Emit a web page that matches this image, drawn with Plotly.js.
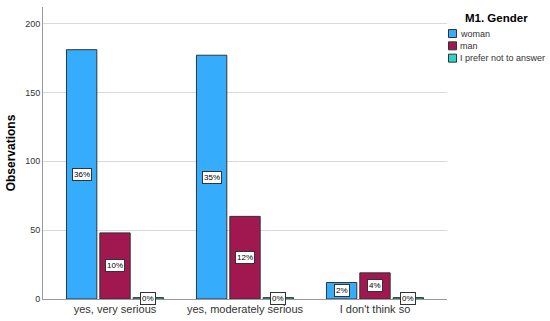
<!DOCTYPE html>
<html>
<head>
<meta charset="utf-8">
<script src="https://cdn.plot.ly/plotly-3.0.1.min.js"></script>
<style>html,body{margin:0;padding:0;background:#fff;}#chart{width:550px;height:321px;}</style>
</head>
<body>
<div id="chart"></div>
<script>
const categories = ["yes, very serious", "yes, moderately serious", "I don't think so"];
const woman = [181, 177, 12];
const man = [48, 60, 19];
const preferNot = [1, 1, 1];
const seriesNames = ["woman", "man", "I prefer not to answer"];
const seriesColors = ["#35acfc", "#a0184f", "#2fd4c8"];
const yTicks = [0, 50, 100, 150, 200];
const legendTitle = "M1. Gender";

const seriesValues = [woman, man, preferNot];
const total = seriesValues.flat().reduce((a, b) => a + b, 0);
const FONT = "Arial, 'Liberation Sans', sans-serif";

const bargap = 0.23;
const bargroupgap = 0.09;

const traces = seriesValues.map((vals, i) => ({
  type: "bar",
  name: seriesNames[i],
  x: categories,
  y: vals,
  marker: {color: seriesColors[i], line: {color: "#333333", width: 1}},
  hoverinfo: "x+y+name",
  showlegend: false
}));

// percentage boxes centred in each bar
const nS = seriesValues.length;
const groupW = 1 - bargap;
const slotW = groupW / nS;
const annotations = [];
seriesValues.forEach((vals, i) => {
  vals.forEach((v, j) => {
    annotations.push({
      x: j - groupW / 2 + slotW * (i + 0.5),
      y: v / 2,
      xref: "x", yref: "y",
      text: Math.round(v / total * 100) + "%",
      showarrow: false,
      font: {family: FONT, size: 8, color: "#000"},
      bgcolor: "#ffffff",
      bordercolor: "#333333",
      borderwidth: 1,
      borderpad: 1
    });
  });
});

// legend drawn in pixel positions (compact, SPSS-like)
const W = 550, H = 321;
const M = {l: 43, r: 103, t: 7, b: 22.3};
const plotW = W - M.l - M.r, plotH = H - M.t - M.b;
const px = x => (x - M.l) / plotW;
const py = y => (H - M.b - y) / plotH;
const shapes = [];
annotations.push({
  xref: "paper", yref: "paper", x: px(496), y: py(18),
  xanchor: "center", yanchor: "middle", showarrow: false,
  text: "<b>" + legendTitle + "</b>",
  font: {family: FONT, size: 11.5, color: "#000"}
});
seriesNames.forEach((name, i) => {
  const cy = 33.5 + i * 12.3;
  shapes.push({
    type: "rect", xref: "paper", yref: "paper",
    x0: px(448.5), x1: px(456.5), y0: py(cy - 4), y1: py(cy + 4),
    fillcolor: seriesColors[i], line: {color: "#333333", width: 1}
  });
  annotations.push({
    xref: "paper", yref: "paper", x: px(458), y: py(cy),
    xanchor: "left", yanchor: "middle", showarrow: false,
    text: name,
    font: {family: FONT, size: 9, color: "#333"}
  });
});

const layout = {
  width: W, height: H,
  margin: M,
  paper_bgcolor: "#ffffff",
  plot_bgcolor: "#ffffff",
  barmode: "group",
  bargap: bargap,
  bargroupgap: bargroupgap,
  font: {family: FONT, color: "#333"},
  xaxis: {
    type: "category",
    range: [-0.554, 2.554],
    showline: true, linecolor: "#999999", linewidth: 1,
    showgrid: false, zeroline: false, ticks: "",
    tickfont: {size: 11, color: "#333"}
  },
  yaxis: {
    range: [0, 212],
    tickvals: yTicks,
    showline: true, linecolor: "#999999", linewidth: 1,
    showgrid: true, gridcolor: "#d9d9d9", gridwidth: 1,
    zeroline: false, ticks: "",
    tickfont: {size: 9, color: "#333"},
    title: {text: "<b>Observations</b>", font: {size: 12, color: "#000"}, standoff: 6}
  },
  showlegend: false,
  shapes: shapes,
  annotations: annotations
};

Plotly.newPlot("chart", traces, layout, {displayModeBar: false, staticPlot: true});
</script>
</body>
</html>
